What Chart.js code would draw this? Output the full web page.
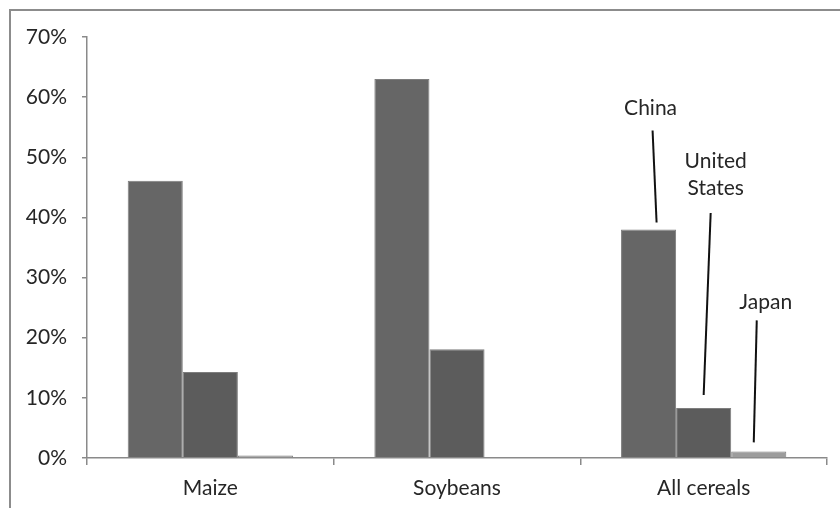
<!DOCTYPE html>
<html>
<head>
<meta charset="utf-8">
<title>Share of world stocks</title>
<script src="https://cdn.jsdelivr.net/npm/chart.js@4/dist/chart.umd.min.js"></script>
<style>
    html, body { margin: 0; padding: 0; background: #fff; }
    #stockChart { display: block; }
</style>
</head>
<body>
<canvas id="stockChart" width="840" height="508"></canvas>
<script>
const categories = ["Maize", "Soybeans", "All cereals"];
const countries = ["China", "United States", "Japan"];
const chinaShare = [46.1, 63.0, 38.0];
const usShare = [14.3, 18.1, 8.3];
const japanShare = [0.4, 0.0, 1.1];
const yTicks = [0, 10, 20, 30, 40, 50, 60, 70];

// callouts on the "All cereals" group: label lines, then line offsets from the bar top
const callouts = [
    { lines: ["China"], textDx: 2, textDy: -121, topDx: 4, topDy: -99, botDx: 8, botDy: -7 },
    { lines: ["United", "States"], textDx: 12, textDy: -247, topDx: 7, topDy: -195, botDx: 0, botDy: -13 },
    { lines: ["Japan"], textDx: 7, textDy: -149, topDx: -2, topDy: -131, botDx: -5, botDy: -9 }
];

const FONT = "Lato, 'Open Sans', sans-serif";
const TEXT = "#262626";
const AXIS = "#8a8a8a";

const frame = {
    id: "frame",
    beforeDraw(chart) {
        const ctx = chart.ctx;
        ctx.save();
        ctx.fillStyle = "#fff";
        ctx.fillRect(0, 0, chart.width, chart.height);
        ctx.strokeStyle = "#8c8c8c";
        ctx.lineWidth = 2;
        ctx.strokeRect(10, 10, chart.width + 20, chart.height + 20);
        ctx.restore();
    }
};

const calloutPlugin = {
    id: "callouts",
    afterDatasetsDraw(chart) {
        const ctx = chart.ctx;
        const idx = categories.length - 1;
        ctx.save();
        ctx.font = "21px " + FONT;
        ctx.fillStyle = TEXT;
        ctx.textAlign = "center";
        ctx.textBaseline = "middle";
        ctx.strokeStyle = "#111";
        ctx.lineWidth = 2;
        callouts.forEach((c, i) => {
            const bar = chart.getDatasetMeta(i).data[idx];
            c.lines.forEach((t, k) => {
                ctx.fillText(t, bar.x + c.textDx, bar.y + c.textDy + k * 27);
            });
            ctx.beginPath();
            ctx.moveTo(bar.x + c.topDx, bar.y + c.topDy);
            ctx.lineTo(bar.x + c.botDx, bar.y + c.botDy);
            ctx.stroke();
        });
        ctx.restore();
    }
};

function makeDataset(label, values, color) {
    return {
        label: label,
        data: values,
        backgroundColor: color,
        borderColor: "#7e7e7e",
        borderWidth: { top: 1, right: 1, left: 1, bottom: 0 },
        barPercentage: 1.0,
        categoryPercentage: 0.67
    };
}

window.onload = function () {
    const ctx = document.getElementById("stockChart").getContext("2d");

    new Chart(ctx, {
        type: "bar",
        data: {
            labels: categories,
            datasets: [
                makeDataset(countries[0], chinaShare, "#666666"),
                makeDataset(countries[1], usShare, "#5c5c5c"),
                makeDataset(countries[2], japanShare, "#9c9c9c")
            ]
        },
        options: {
            responsive: false,
            animation: false,
            layout: { padding: { left: 10, right: 13, top: 37, bottom: 0 } },
            plugins: {
                legend: { display: false },
                tooltip: { enabled: false },
                title: { display: false }
            },
            scales: {
                x: {
                    afterFit(scale) { scale.height = 50; },
                    border: { color: AXIS, width: 1.5 },
                    grid: { drawOnChartArea: false, color: AXIS, tickLength: 7, lineWidth: 1.5 },
                    ticks: { color: TEXT, font: { family: FONT, size: 21 }, padding: 11 }
                },
                y: {
                    min: 0,
                    max: 70,
                    afterFit(scale) { scale.width = 77; },
                    afterBuildTicks(scale) { scale.ticks = yTicks.map(v => ({ value: v })); },
                    border: { color: AXIS, width: 1.5 },
                    grid: { drawOnChartArea: false, color: AXIS, tickLength: 5, lineWidth: 1.5 },
                    ticks: {
                        color: TEXT,
                        font: { family: FONT, size: 21 },
                        padding: 15,
                        callback: v => v + "%"
                    }
                }
            }
        },
        plugins: [frame, calloutPlugin]
    });
};
</script>
</body>
</html>
